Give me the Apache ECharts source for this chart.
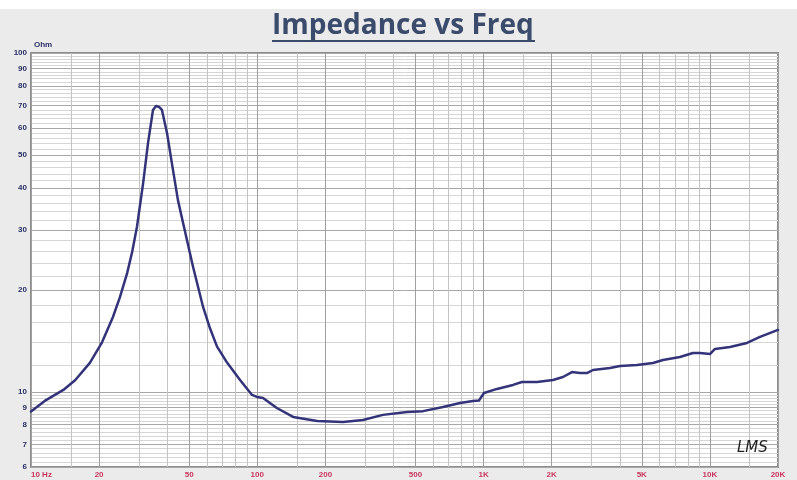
<!DOCTYPE html>
<html><head><meta charset="utf-8">
<script src="https://cdn.jsdelivr.net/npm/echarts@6/dist/echarts.min.js"></script>
<style>html,body{margin:0;padding:0;background:#ebebeb}#c{width:797px;height:480px}</style>
</head><body><div id="c"></div>
<script>
// Frequency (Hz) and impedance (Ohm)
const freqHz = [10, 11.5, 13.9, 15.7, 18.2, 20.6, 23.0, 24.7, 26.6, 28.0, 29.4, 31.3, 32.9, 34.6, 35.7, 36.8, 37.9, 39.9, 42.4, 44.6, 47.0, 52.0, 57.6, 61.8, 66.4, 69.8, 73.5, 83.9, 94.8, 99.7, 106, 122, 144, 184, 239, 293, 359, 459, 540, 662, 787, 898, 954, 1004, 1146, 1349, 1478, 1722, 2026, 2243, 2458, 2667, 2863, 3043, 3619, 4006, 4763, 5604, 6203, 7375, 8420, 9042, 10010, 10530, 12270, 14580, 16650, 20000];
const impedanceOhm = [8.75, 9.4, 10.13, 10.84, 12.17, 14.0, 16.6, 19.0, 22.4, 25.9, 30.7, 41.3, 54.3, 67.9, 69.8, 69.3, 67.9, 58.1, 45.2, 36.8, 31.5, 23.4, 17.8, 15.4, 13.6, 12.9, 12.2, 10.84, 9.79, 9.66, 9.59, 8.96, 8.43, 8.2, 8.15, 8.26, 8.55, 8.72, 8.77, 9.02, 9.27, 9.4, 9.43, 9.92, 10.2, 10.48, 10.69, 10.69, 10.84, 11.06, 11.44, 11.36, 11.36, 11.6, 11.76, 11.92, 12.0, 12.17, 12.42, 12.67, 13.02, 13.02, 12.93, 13.38, 13.57, 13.94, 14.52, 15.23];

// Axis tick labels and grid values
const xLabelValues = [10, 20, 50, 100, 200, 500, 1000, 2000, 5000, 10000, 20000];
const xLabelTexts = ['10 Hz', '20', '50', '100', '200', '500', '1K', '2K', '5K', '10K', '20K'];
const xMinorGrid = [15, 30, 40, 60, 70, 80, 90, 150, 300, 400, 600, 700, 800, 900, 1500, 3000, 4000, 6000, 7000, 8000, 9000, 15000];
const yLabelValues = [6, 7, 8, 9, 10, 20, 30, 40, 50, 60, 70, 80, 90, 100];
const yMinorGrid = [6.2, 6.4, 6.6, 6.8, 7.2, 7.4, 7.6, 7.8, 8.2, 8.4, 8.6, 8.8, 9.2, 9.4, 9.6, 9.8, 12, 14, 16, 18, 22, 24, 26, 28, 32, 34, 36, 38, 42, 44, 46, 48, 52, 54, 56, 58, 62, 64, 66, 68, 72, 74, 76, 78, 82, 84, 86, 88, 92, 94, 96, 98];

const seriesData = freqHz.map((f, i) => [f, impedanceOhm[i]]);
const xLabelMap = {};
xLabelValues.forEach((v, i) => { xLabelMap[v] = xLabelTexts[i]; });

const chart = echarts.init(document.getElementById('c'), null, { renderer: 'canvas' });
chart.setOption({
  animation: false,
  backgroundColor: '#ebebeb',
  title: [{
    text: 'Impedance vs Freq',
    left: 272, top: 12, padding: 0,
    textStyle: { fontFamily: 'Open Sans', fontWeight: 'bold', fontSize: 28, color: '#3a4b6b' }
  }, {
    text: 'LMS',
    left: 737, top: 441, padding: 0,
    textStyle: { fontFamily: 'DejaVu Sans', fontStyle: 'italic', fontWeight: 'normal', fontSize: 15, color: '#1e1e1e' }
  }],
  graphic: [
    { type: 'rect', shape: { x: 0, y: 0, width: 797, height: 9 }, style: { fill: '#ffffff' }, silent: true },
    { type: 'rect', shape: { x: 272, y: 40, width: 263, height: 2 }, style: { fill: '#3a4b6b' }, silent: true }
  ],
  grid: {
    left: 31, right: 19, top: 53, bottom: 13,
    show: true, backgroundColor: '#ffffff', borderColor: '#8c8c8c', borderWidth: 2
  },
  xAxis: [{
    type: 'log', logBase: 10, min: 10, max: 20000,
    axisLine: { show: false },
    axisTick: { show: false, customValues: xLabelValues },
    splitLine: { show: true, lineStyle: { color: '#a0a0a0', width: 1 } },
    axisLabel: {
      customValues: xLabelValues,
      formatter: v => xLabelMap[Math.round(v)] || '',
      color: '#c8365e', fontSize: 8, fontWeight: 'bold', fontFamily: 'Arial, Liberation Sans',
      margin: 4, alignMinLabel: 'left'
    }
  }, {
    type: 'log', logBase: 10, min: 10, max: 20000,
    axisLine: { show: false },
    axisTick: { show: false, customValues: xMinorGrid },
    axisLabel: { show: false },
    splitLine: { show: true, lineStyle: { color: '#c4c4c4', width: 1 } }
  }],
  yAxis: [{
    type: 'log', logBase: 10, min: 6, max: 100,
    name: 'Ohm', nameLocation: 'end', nameGap: 4,
    nameTextStyle: { align: 'left', padding: [0, 0, 0, 3], color: '#283064', fontSize: 8, fontWeight: 'bold', fontFamily: 'Arial, Liberation Sans' },
    axisLine: { show: false },
    axisTick: { show: false, customValues: yLabelValues },
    splitLine: { show: true, lineStyle: { color: '#a8a8a8', width: 1 } },
    axisLabel: {
      customValues: yLabelValues,
      color: '#283064', fontSize: 8, fontWeight: 'bold', fontFamily: 'Arial, Liberation Sans', margin: 4
    }
  }, {
    type: 'log', logBase: 10, min: 6, max: 100,
    axisLine: { show: false },
    axisTick: { show: false, customValues: yMinorGrid },
    axisLabel: { show: false },
    splitLine: { show: true, lineStyle: { color: '#d6d6d6', width: 1 } }
  }],
  series: [{
    type: 'line',
    xAxisIndex: 0, yAxisIndex: 0,
    data: seriesData,
    showSymbol: false,
    smooth: false,
    lineStyle: { color: '#33337a', width: 2.5, join: 'round', cap: 'round' },
    silent: true
  }]
});
</script>
</body></html>
